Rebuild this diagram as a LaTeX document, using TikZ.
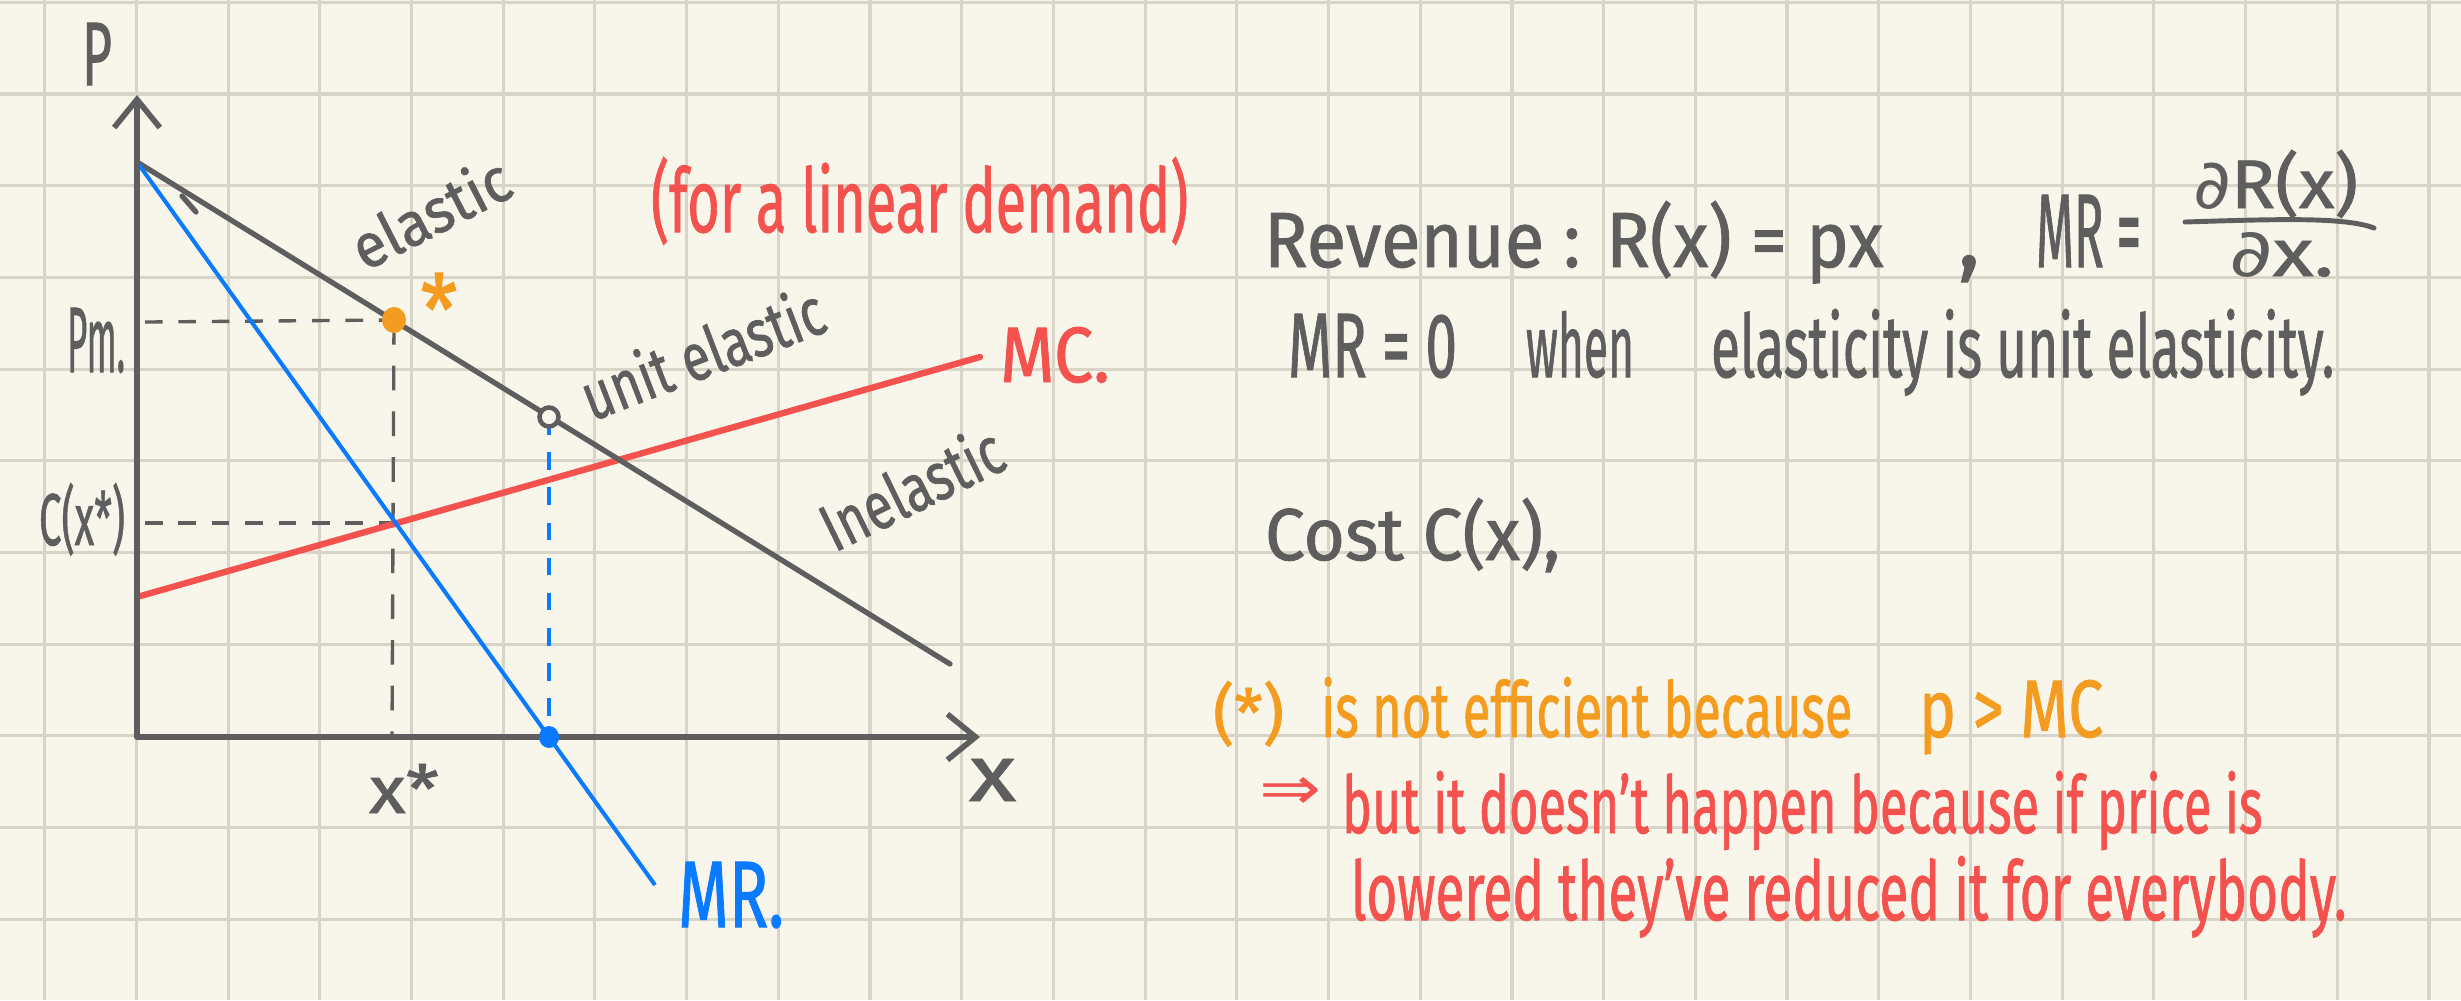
\documentclass[tikz,border=0pt]{standalone}
\usepackage{fontspec}
\setmainfont{Fira Sans}[FakeBold=1.2]
\newfontfamily\symfont{DejaVu Sans}
\usepackage{graphicx}
\usetikzlibrary{arrows.meta,shapes.geometric}
\definecolor{bgc}{HTML}{F8F6EB}
\definecolor{gridc}{HTML}{D8D5C8}
\definecolor{inkc}{HTML}{5E5E5E}
\definecolor{bluec}{HTML}{0A7AFF}
\definecolor{redc}{HTML}{F4524F}
\definecolor{orangec}{HTML}{F39C1F}
\newcommand\hw[3]{\resizebox{#1cm}{#2cm}{#3}}
\tikzset{
  lbl/.style={inner sep=0pt, outer sep=0pt},
  gridline/.style={draw=gridc, line width=0.9pt},
  axisline/.style={draw=inkc, line width=1.7pt, line join=round},
  demline/.style={draw=inkc, line width=1.5pt, line cap=round},
  mrline/.style={draw=bluec, line width=1.15pt},
  mcline/.style={draw=redc, line width=1.8pt, line cap=round},
  gdash/.style={draw=inkc, line width=0.95pt, dash pattern=on 5pt off 4.5pt},
  gvdash/.style={draw=inkc, line width=0.95pt, dash pattern=on 7pt off 6pt},
  bdash/.style={draw=bluec, line width=0.95pt, dash pattern=on 5pt off 5pt},
  barb/.tip={Straight Barb[length=8pt, width=13pt, line width=1.6pt]}
}
\begin{document}
\begin{tikzpicture}[x=0.01cm, y=-0.01cm]
\fill[bgc] (0,0) rectangle (2461,1000);
\useasboundingbox (0,0) rectangle (2461,1000);
% grid paper
\foreach \i in {0,...,26} \draw[gridline] ({44.7+91.7*\i},0) -- ({44.7+91.7*\i},1000);
\foreach \j in {0,...,10} \draw[gridline] (0,{2.3+91.7*\j}) -- (2461,{2.3+91.7*\j});

% key points
\coordinate (O) at (137,737);
\coordinate (Ytop) at (137,95);
\coordinate (Xend) at (980,737);
\coordinate (D0) at (137,162);
\coordinate (D1) at (950,664);
\coordinate (MR1) at (655,885);
\coordinate (MC0) at (137,597);
\coordinate (MC1) at (980,357);
\coordinate (PS) at (394,320);
\coordinate (U) at (549,417);
\coordinate (Q) at (549,737);
\coordinate (XS) at (392,737);
\coordinate (IX) at (396,523);
\coordinate (PmL) at (145,322);
\coordinate (CL) at (145,523);
\coordinate (H0) at (182,196);
\coordinate (H1) at (196,212);

% dashed guides
\draw[gdash] (PmL) -- (PS);
\draw[gdash] (CL) -- (IX);
\draw[gvdash] (PS) -- (XS);
\draw[bdash] (U) -- (Q);

% curves
\draw[mcline] (MC0) -- (MC1);
\draw[demline] (D0) -- (D1);
\draw[demline] (H0) -- (H1);
\draw[mrline] (D0) -- (MR1);

% axes
\draw[axisline, {barb}-{barb}] (Ytop) -- (O) -- (Xend);

% points
\node[circle, draw=inkc, line width=1.3pt, fill=bgc, minimum size=0.19cm, inner sep=0pt] (unitpt) at (U) {};
\node[ellipse, fill=bluec, minimum width=0.2cm, minimum height=0.22cm, inner sep=0pt] (qdot) at (Q) {};
\node[ellipse, fill=orangec, minimum width=0.24cm, minimum height=0.26cm, inner sep=0pt] (pdot) at (PS) {};

% axis labels
\node[lbl, text=inkc, anchor=base west] (lP) at (82,85) {\hw{0.30}{0.62}{P}};
\node[lbl, text=inkc, anchor=base west] (lx) at (969,801) {\hw{0.47}{0.42}{x}};
\node[lbl, text=inkc, anchor=base west] (lPm) at (67,372) {\hw{0.58}{0.64}{Pm.}};
\node[lbl, text=inkc, anchor=base west] (lC) at (39,545) {\hw{0.86}{0.62}{C(x*)}};
\node[lbl, text=inkc, anchor=base west] (lxs) at (369,813) {\hw{0.70}{0.49}{x*}};
\node[lbl, text=bluec, anchor=base west] (lMR) at (678,927) {\hw{1.06}{0.65}{MR.}};
\node[lbl, text=redc, anchor=base west] (lMC) at (1000,382) {\hw{1.10}{0.55}{MC.}};
\node[lbl, text=orangec, anchor=north] (lstar) at (439,273) {\hw{0.37}{0.72}{*}};
\node[lbl, text=redc, anchor=base west] (llin) at (651,232) {\hw{5.37}{0.75}{(for a linear demand)}};

% elasticity labels
\node[lbl, text=inkc, rotate=27] (lel) at (430,212) {\hw{1.70}{0.48}{elastic}};
\node[lbl, text=inkc, rotate=21] (lun) at (702,352) {\hw{2.55}{0.52}{unit elastic}};
\node[lbl, text=inkc, rotate=26] (lin) at (911,487) {\hw{1.95}{0.52}{Inelastic}};

% right-hand notes
\node[lbl, text=inkc, anchor=base west] (r1) at (1264,267) {\hw{6.19}{0.66}{Revenue : R(x) = px}};
\node[lbl, text=inkc, anchor=base west] (r1c) at (1958,267) {\fontsize{26}{30}\selectfont ,};
\node[lbl, text=inkc, anchor=base west] (r1m) at (2036,267) {\hw{1.05}{0.72}{MR =}};
\node[lbl, text=inkc, anchor=base west] (rnum) at (2193,208) {\hw{1.65}{0.58}{{\symfont ∂}R(x)}};
\node[lbl, text=inkc, anchor=base west] (rden) at (2229,276) {\hw{1.05}{0.44}{{\symfont ∂}x.}};
\draw[draw=inkc, line width=1.4pt, line cap=round] (2185,222) .. controls (2280,219) and (2345,217) .. (2374,228);

\node[lbl, text=inkc, anchor=base west] (r2a) at (1288,377) {\hw{1.69}{0.63}{MR = 0}};
\node[lbl, text=inkc, anchor=base west] (r2b) at (1526,377) {\hw{1.08}{0.66}{when}};
\node[lbl, text=inkc, anchor=base west] (r2c) at (1711,377) {\hw{6.23}{0.68}{elasticity is unit elasticity.}};

\node[lbl, text=inkc, anchor=base west] (r3) at (1265,560) {\hw{2.95}{0.62}{Cost C(x),}};

\node[lbl, text=orangec, anchor=base west] (r4a) at (1213,737) {\hw{0.71}{0.56}{(*)}};
\node[lbl, text=orangec, anchor=base west] (r4b) at (1321,737) {\hw{5.31}{0.60}{is not efficient because}};
\node[lbl, text=orangec, anchor=base west] (r4c) at (1919,737) {\hw{1.84}{0.57}{p > MC}};

\node[lbl, text=redc] (r5a) at (1290,793) {\hw{0.62}{0.32}{\symfont ⇒}};
\node[lbl, text=redc, anchor=base west] (r5b) at (1342,833) {\hw{9.20}{0.62}{but it doesn't happen because if price is}};
\node[lbl, text=redc, anchor=base west] (r6) at (1351,920) {\hw{9.95}{0.64}{lowered they've reduced it for everybody.}};
\end{tikzpicture}
\end{document}
